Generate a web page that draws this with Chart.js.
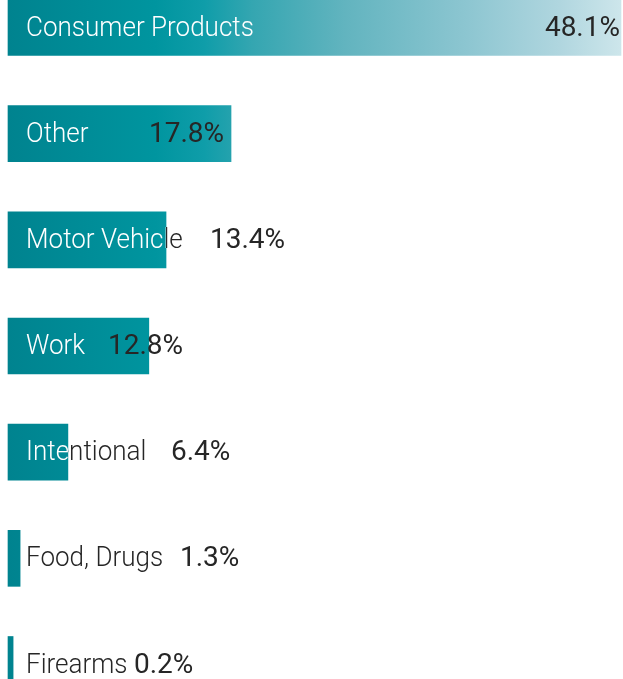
<!DOCTYPE html>
<html><head><meta charset="utf-8">
<script src="https://cdn.jsdelivr.net/npm/chart.js@4"></script>
<style>html,body{margin:0;padding:0;background:#fff;overflow:hidden}canvas{display:block}</style>
</head><body>
<canvas id="c" width="623" height="679"></canvas>
<script>
// ---- data ----
const categories = ['Consumer Products', 'Other', 'Motor Vehicle', 'Work', 'Intentional', 'Food, Drugs', 'Firearms'];
const percentValues = [48.1, 17.8, 13.4, 12.8, 6.4, 1.3, 0.2];      // printed values
const barLengths = [48.1, 17.5, 12.4, 11.05, 4.7, 0.95, 0.4];        // bar lengths as drawn (same % units)
const valueLabels = percentValues.map(v => v.toFixed(1) + '%');

let gradCache = null;
function barGradient(ctx) {
  const chart = ctx.chart;
  const ca = chart.chartArea;
  if (!ca) return '#008c99';
  if (gradCache && gradCache.l === ca.left && gradCache.r === ca.right) return gradCache.g;
  const g = chart.ctx.createLinearGradient(ca.left, 0, ca.right, 0);
  g.addColorStop(0.00, '#00838f');
  g.addColorStop(0.24, '#00959f');
  g.addColorStop(0.32, '#0f9da9');
  g.addColorStop(0.40, '#35a6b1');
  g.addColorStop(0.55, '#62b4bf');
  g.addColorStop(0.75, '#8dc6d1');
  g.addColorStop(0.90, '#b0d6df');
  g.addColorStop(1.00, '#cde6eb');
  gradCache = {l: ca.left, r: ca.right, g};
  return g;
}

const labelPlugin = {
  id: 'barLabels',
  afterDatasetsDraw(chart, args, opts) {
    const c = chart.ctx;
    const meta = chart.getDatasetMeta(0);
    meta.data.forEach((bar, i) => {
      const p = bar.getProps(['x', 'y', 'base', 'height'], true);
      const top = p.y - p.height / 2;
      const ty = p.y + opts.baselineShift;
      const drawLabel = (color) => {
        c.save();
        c.translate(opts.labelX, ty);
        c.scale(opts.labelScaleX, 1);
        c.font = opts.labelFont;
        c.textAlign = 'left';
        c.textBaseline = 'alphabetic';
        c.fillStyle = color;
        c.fillText(categories[i], 0, 0);
        c.restore();
      };
      // dark part (outside bar)
      c.save();
      c.beginPath();
      c.rect(0, 0, chart.width, chart.height);
      c.rect(p.base, top, p.x - p.base, p.height);
      c.clip('evenodd');
      drawLabel(opts.darkColor);
      c.restore();
      // white part (inside bar)
      c.save();
      c.beginPath();
      c.rect(p.base, top, p.x - p.base, p.height);
      c.clip();
      drawLabel('#ffffff');
      c.restore();
      // value
      c.save();
      c.font = opts.valueFont;
      c.fillStyle = opts.valueColor;
      c.textBaseline = 'alphabetic';
      c.textAlign = opts.valueAlign[i];
      c.fillText(valueLabels[i], opts.valueX[i], ty);
      c.restore();
    });
  }
};

new Chart(document.getElementById('c'), {
  type: 'bar',
  data: {
    labels: categories,
    datasets: [{
      data: barLengths,
      backgroundColor: barGradient,
      borderWidth: 0,
      barThickness: 56,
      clip: false
    }]
  },
  options: {
    indexAxis: 'y',
    responsive: false,
    devicePixelRatio: 1,
    animation: false,
    layout: {padding: {left: 8, right: 2, top: 27.5, bottom: 14.5}},
    scales: {
      x: {display: false, min: 0, max: Math.max(...barLengths)},
      y: {display: false, offset: false}
    },
    plugins: {
      legend: {display: false},
      tooltip: {enabled: false},
      barLabels: {
        labelX: 26,
        labelScaleX: 0.93,
        baselineShift: 8,
        labelFont: '300 28px Roboto',
        valueFont: '400 28px Roboto',
        darkColor: '#262626',
        valueColor: '#262626',
        valueX: [620, 149, 210, 108, 171, 180, 134],
        valueAlign: ['right', 'left', 'left', 'left', 'left', 'left', 'left']
      }
    }
  },
  plugins: [labelPlugin]
});
</script>
</body></html>
